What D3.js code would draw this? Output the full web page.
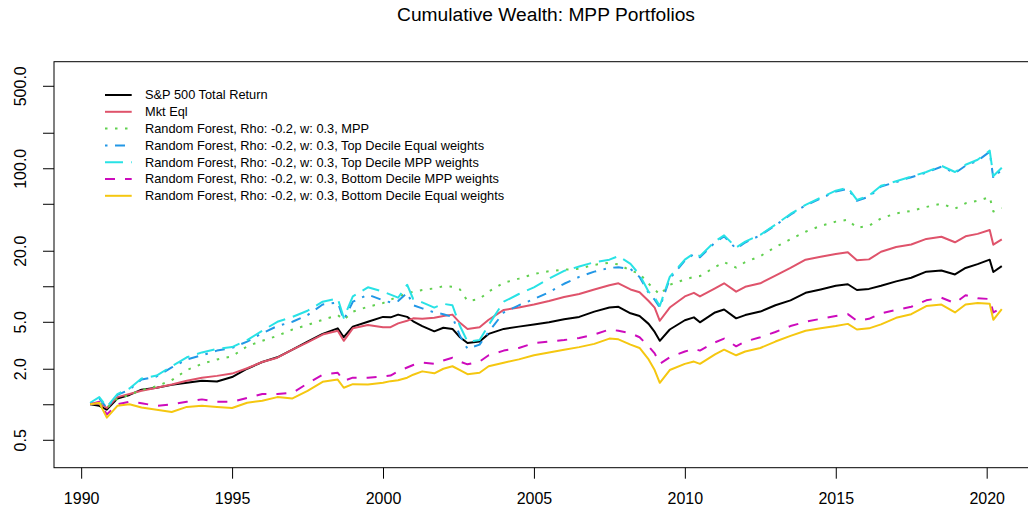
<!DOCTYPE html>
<html>
<head>
<meta charset="utf-8">
<script src="https://cdn.jsdelivr.net/npm/d3@7"></script>
<style>
  body { margin: 0; background: #fff; }
  svg { display: block; font-family: "Liberation Sans", Arial, sans-serif; }
</style>
</head>
<body>
<div id="chart"></div>
<script>
// decimal years shared by every series
const dates = [1990.3, 1990.6, 1990.85, 1991.2, 1991.6, 1992.0, 1992.5, 1993.0, 1993.5, 1994.0,
  1994.5, 1995.0, 1995.5, 1996.0, 1996.5, 1997.0, 1997.5, 1998.0, 1998.5, 1998.7,
  1999.0, 1999.5, 2000.0, 2000.25, 2000.5, 2000.8, 2001.0, 2001.3, 2001.7, 2002.0,
  2002.3, 2002.55, 2002.8, 2003.2, 2003.5, 2004.0, 2004.5, 2005.0, 2005.5, 2006.0,
  2006.5, 2007.0, 2007.5, 2007.8, 2008.2, 2008.5, 2008.8, 2009.0, 2009.17, 2009.5,
  2010.0, 2010.3, 2010.5, 2011.0, 2011.3, 2011.7, 2012.0, 2012.5, 2013.0, 2013.5,
  2014.0, 2014.5, 2015.0, 2015.4, 2015.7, 2016.1, 2016.5, 2017.0, 2017.5, 2018.0,
  2018.5, 2018.95, 2019.3, 2019.7, 2020.1, 2020.22, 2020.5];

const sp500 = [1.0, 0.97, 0.9, 1.12, 1.2, 1.33, 1.38, 1.46, 1.52, 1.58,
  1.56, 1.7, 2.0, 2.28, 2.5, 2.9, 3.4, 3.95, 4.4, 3.7,
  4.55, 5.0, 5.5, 5.45, 5.75, 5.5, 5.05, 4.6, 4.15, 4.45,
  4.35, 3.7, 3.3, 3.4, 3.95, 4.35, 4.55, 4.75, 4.95, 5.25,
  5.5, 6.1, 6.6, 6.7, 5.9, 5.6, 4.8, 4.1, 3.45, 4.3,
  5.15, 5.45, 4.95, 6.0, 6.35, 5.35, 5.7, 6.1, 6.9, 7.6,
  8.8, 9.4, 10.1, 10.4, 9.3, 9.5, 10.1, 11.0, 11.8, 13.3,
  13.6, 12.6, 14.3, 15.4, 16.8, 13.2, 14.8];

const mktEql = [1.0, 1.02, 0.93, 1.15, 1.22, 1.3, 1.38, 1.47, 1.58, 1.68,
  1.74, 1.82, 2.02, 2.28, 2.48, 2.9, 3.35, 3.9, 4.2, 3.45,
  4.4, 4.7, 4.5, 4.5, 4.85, 5.1, 5.35, 5.3, 5.4, 5.6,
  5.75, 4.9, 4.35, 4.5, 5.2, 6.3, 6.6, 7.0, 7.5, 8.1,
  8.6, 9.4, 10.2, 10.6, 9.4, 8.9, 7.5, 6.6, 5.1, 6.6,
  8.2, 8.8, 8.2, 9.6, 10.6, 9.0, 9.9, 10.6, 12.3, 14.3,
  16.8, 17.8, 18.8, 19.4, 16.6, 16.9, 19.6, 21.5, 22.6, 25.2,
  26.3, 23.6, 26.5, 27.8, 30.0, 22.5, 25.0];

const rfMpp = [1.0, 1.03, 0.93, 1.12, 1.2, 1.32, 1.42, 1.6, 1.95, 2.2,
  2.4, 2.55, 3.1, 3.45, 3.8, 4.3, 4.7, 5.2, 5.7, 5.2,
  6.1, 6.7, 7.2, 7.7, 8.2, 8.7, 9.0, 9.3, 9.6, 10.0,
  9.9, 9.4, 7.5, 7.8, 9.0, 10.7, 11.6, 12.7, 13.4, 13.8,
  14.1, 15.2, 15.8, 15.3, 13.6, 12.8, 10.5, 9.4, 8.5, 10.3,
  11.4, 12.0, 12.2, 14.5, 16.0, 14.4, 16.0, 18.0, 21.5, 25.0,
  29.0, 32.5, 35.3, 36.6, 31.3, 32.5, 37.6, 41.5, 43.5, 47.0,
  50.0, 45.5, 50.5, 53.0, 57.0, 43.0, 46.0];

const rfTopEqual = [1.02, 1.12, 0.93, 1.2, 1.33, 1.62, 1.72, 2.05, 2.4, 2.6,
  2.85, 3.0, 3.4, 4.0, 4.6, 5.0, 5.7, 7.0, 7.3, 5.2,
  7.4, 8.5, 7.6, 7.3, 7.5, 8.8, 6.9, 6.5, 6.0, 5.8,
  5.5, 3.8, 2.95, 3.2, 4.1, 6.0, 6.9, 7.8, 8.9, 10.5,
  12.0, 13.3, 14.3, 14.5, 14.0, 12.0, 8.8, 7.7, 6.6, 11.6,
  16.5, 18.8, 17.6, 23.5, 26.5, 20.8, 23.5, 27.0, 32.8, 40.5,
  48.5, 55.5, 63.5, 67.0, 53.0, 57.5, 70.0, 76.5, 84.0, 92.0,
  103.0, 91.0, 105.0, 116.0, 138.0, 82.0, 98.0];

const rfTopMpp = [1.03, 1.15, 0.95, 1.22, 1.36, 1.65, 1.75, 2.1, 2.5, 2.75,
  2.95, 3.05, 3.5, 4.2, 5.0, 5.5, 6.2, 7.4, 7.9, 5.4,
  8.2, 9.8, 9.0, 8.5, 8.0, 10.3, 7.8, 7.3, 6.6, 7.1,
  6.9, 4.6, 3.4, 3.5, 4.7, 7.4, 8.6, 9.8, 11.6, 13.5,
  14.7, 16.0, 16.8, 18.0, 15.5, 12.5, 9.0, 8.0, 6.8, 12.0,
  16.8, 19.0, 18.0, 24.0, 27.0, 21.3, 23.9, 27.3, 33.2, 41.0,
  49.0, 56.4, 64.6, 68.4, 54.0, 58.5, 71.0, 77.6, 85.0, 93.0,
  105.0, 93.0, 107.0, 118.0, 141.0, 86.0, 101.0];

const rfBottomMpp = [1.0, 1.05, 0.82, 1.0, 1.05, 1.02, 0.97, 1.0, 1.05, 1.1,
  1.05, 1.05, 1.13, 1.22, 1.22, 1.25, 1.5, 1.78, 1.85, 1.58,
  1.68, 1.68, 1.72, 1.75, 1.9, 2.05, 2.15, 2.25, 2.2, 2.35,
  2.48, 2.3, 2.18, 2.3, 2.6, 2.85, 3.0, 3.3, 3.4, 3.5,
  3.65, 3.9, 4.3, 4.2, 4.0, 3.7, 3.1, 2.7, 2.2, 2.5,
  2.8, 2.95, 2.85, 3.35, 3.6, 3.1, 3.4, 3.7, 4.1, 4.6,
  5.0, 5.3, 5.6, 5.8, 5.1, 5.3, 5.9, 6.3, 6.7, 7.6,
  8.0, 7.2, 8.4, 7.9, 7.8, 6.0, 6.6];

const rfBottomEqual = [1.0, 1.03, 0.77, 0.97, 1.0, 0.94, 0.9, 0.86, 0.95, 0.97,
  0.95, 0.93, 1.03, 1.07, 1.15, 1.12, 1.3, 1.55, 1.62, 1.38,
  1.48, 1.47, 1.52, 1.57, 1.6, 1.68, 1.78, 1.9, 1.83, 2.0,
  2.1, 1.95, 1.8, 1.85, 2.1, 2.25, 2.4, 2.6, 2.75, 2.9,
  3.05, 3.25, 3.6, 3.55, 3.2, 3.0, 2.4, 1.95, 1.52, 1.95,
  2.2, 2.3, 2.2, 2.65, 2.9, 2.6, 2.8, 3.0, 3.4, 3.8,
  4.2, 4.4, 4.6, 4.8, 4.3, 4.4, 4.75, 5.4, 5.8, 6.8,
  7.0, 6.0, 7.0, 7.2, 7.1, 5.2, 6.4];

const seriesNames = [
  "S&P 500 Total Return",
  "Mkt Eql",
  "Random Forest, Rho: -0.2, w: 0.3, MPP",
  "Random Forest, Rho: -0.2, w: 0.3, Top Decile Equal weights",
  "Random Forest, Rho: -0.2, w: 0.3, Top Decile MPP weights",
  "Random Forest, Rho: -0.2, w: 0.3, Bottom Decile MPP weights",
  "Random Forest, Rho: -0.2, w: 0.3, Bottom Decile Equal weights"
];
const seriesValues = [sp500, mktEql, rfMpp, rfTopEqual, rfTopMpp, rfBottomMpp, rfBottomEqual];

const xTicks = [1990, 1995, 2000, 2005, 2010, 2015, 2020];
const yTicks = [0.5, 1, 2, 5, 10, 20, 50, 100, 200, 500];
const yLabelled = [0.5, 2, 5, 20, 100, 500];

// R palette + line types
const colors = ["#000000", "#DF536B", "#61D04F", "#2297E6", "#28E2E5", "#CD0BBC", "#F5C710"];
const dashes = [null, null, "2.5,7.5", "2.5,7.5,10,7.5", "18,8", "10,10", null];

const W = 1028, H = 521;
const box = { left: 54, right: 1038, top: 61.7, bottom: 467.7 };

const svg = d3.select("#chart").append("svg")
  .attr("width", W)
  .attr("height", H);

svg.append("rect").attr("width", W).attr("height", H).attr("fill", "#fff");

const x = d3.scaleLinear().domain([1989.1, 2021.7]).range([box.left, box.right]);
const y = d3.scaleLog().domain([0.29, 800]).range([box.bottom, box.top]);

// title
svg.append("text")
  .attr("x", (box.left + box.right) / 2)
  .attr("y", 21)
  .attr("text-anchor", "middle")
  .style("font-size", "19.2px")
  .text("Cumulative Wealth: MPP Portfolios");

svg.append("clipPath").attr("id", "plotClip")
  .append("rect")
  .attr("x", box.left).attr("y", box.top)
  .attr("width", box.right - box.left).attr("height", box.bottom - box.top);

const line = d3.line()
  .x(d => x(d[0]))
  .y(d => y(d[1]));

const plot = svg.append("g").attr("clip-path", "url(#plotClip)");

seriesValues.forEach((vals, i) => {
  plot.append("path")
    .datum(dates.map((t, j) => [t, vals[j]]))
    .attr("fill", "none")
    .attr("stroke", colors[i])
    .attr("stroke-width", 2)
    .attr("stroke-linejoin", "round")
    .attr("stroke-dasharray", dashes[i])
    .attr("d", line);
});

// frame
svg.append("rect")
  .attr("x", box.left).attr("y", box.top)
  .attr("width", box.right - box.left).attr("height", box.bottom - box.top)
  .attr("fill", "none")
  .attr("stroke", "#000")
  .attr("stroke-width", 1);

// x axis
const xAxis = svg.append("g")
  .attr("transform", `translate(0,${box.bottom})`)
  .call(d3.axisBottom(x).tickValues(xTicks).tickFormat(d3.format("d")).tickSize(11).tickPadding(14));
xAxis.select(".domain").remove();
xAxis.selectAll("text").style("font-size", "16px").attr("fill", "#000")
  .attr("font-family", "Liberation Sans, Arial, sans-serif");

// y axis (labels parallel to the axis, as in base R)
const yAxis = svg.append("g")
  .attr("transform", `translate(${box.left},0)`)
  .call(d3.axisLeft(y).tickValues(yTicks).tickSize(11)
    .tickFormat(d => yLabelled.includes(d) ? d3.format(".1f")(d) : ""));
yAxis.select(".domain").remove();
yAxis.selectAll("text")
  .style("font-size", "16px")
  .attr("fill", "#000")
  .attr("font-family", "Liberation Sans, Arial, sans-serif")
  .attr("text-anchor", "middle")
  .attr("x", 0)
  .attr("y", 0)
  .attr("dy", 0)
  .attr("transform", `translate(${25.5 - box.left},0) rotate(-90)`);

// legend
const legend = svg.append("g").attr("transform", "translate(105,95)");
seriesNames.forEach((name, i) => {
  const row = legend.append("g").attr("transform", `translate(0,${i * 16.8})`);
  row.append("line")
    .attr("x1", 0).attr("x2", 26.7)
    .attr("stroke", colors[i])
    .attr("stroke-width", 2)
    .attr("stroke-dasharray", dashes[i]);
  row.append("text")
    .attr("x", 40)
    .attr("dy", "0.35em")
    .style("font-size", "12.8px")
    .text(name);
});
</script>
</body>
</html>
